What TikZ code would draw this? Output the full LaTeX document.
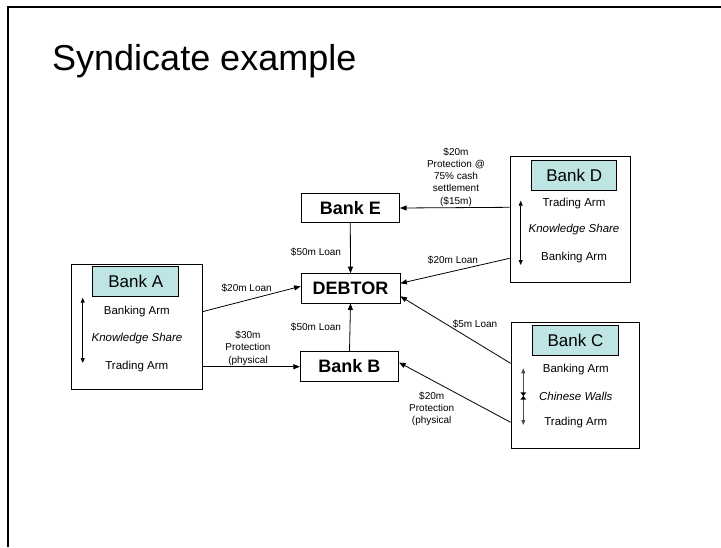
\documentclass[tikz,border=0pt]{standalone}
\usepackage{fontspec}
\setmainfont{Liberation Sans}
\usetikzlibrary{arrows.meta}
\definecolor{hdr}{RGB}{190,228,228}
\tikzset{
  outerbox/.style={draw, line width=0.8pt, inner sep=0pt},
  hdrbox/.style={draw, line width=0.8pt, fill=hdr, inner sep=0pt, font=\fontsize{17}{20}\selectfont},
  bankbox/.style={draw, line width=0.8pt, inner sep=0pt, minimum width=99pt, minimum height=29.4pt, font=\fontsize{18}{21}\selectfont\bfseries},
  armtext/.style={inner sep=0pt, font=\fontsize{11.5}{14}\selectfont},
  lbl/.style={inner sep=0pt, align=center, font=\fontsize{10}{12.2}\selectfont},
  conn/.style={line width=0.8pt, -{Triangle[length=6.5pt,width=5pt]}},
  dbl/.style={line width=0.8pt, {Triangle[length=5pt,width=4pt]}-{Triangle[length=5pt,width=4pt]}},
}
\begin{document}
\begin{tikzpicture}[x=1pt,y=-1pt]
\useasboundingbox (0,0) rectangle (721,547);
\draw[line width=2pt] (8,547) -- (8,7) -- (721,7);
\node[anchor=base west, inner sep=0pt, font=\fontsize{36}{40}\selectfont] (title) at (52,70) {Syndicate example};

% Bank A
\node[outerbox, minimum width=131pt, minimum height=125pt] (bankA) at (136.5,326.5) {};
\node[hdrbox, minimum width=86pt, minimum height=30.7pt] (hdrA) at (135.8,281.3) {Bank A};
\node[armtext] (aBank) at (136.8,311.7) {Banking Arm};
\node[armtext] (aKnow) at (137,339) {\itshape Knowledge Share};
\node[armtext] (aTrade) at (136.8,366.7) {Trading Arm};
\coordinate (aTop) at (82.7,297.7);
\coordinate (aBot) at (82.7,363);
\draw[dbl] (aTop) -- (aBot);

% Bank D
\node[outerbox, minimum width=120pt, minimum height=126pt] (bankD) at (570,219) {};
\node[hdrbox, minimum width=85pt, minimum height=30pt] (hdrD) at (574.2,175) {Bank D};
\node[armtext] (dTrade) at (574,203.3) {Trading Arm};
\node[armtext] (dKnow) at (574,230) {\itshape Knowledge Share};
\node[armtext] (dBank) at (574,257.3) {Banking Arm};
\coordinate (dTop) at (520.7,200.7);
\coordinate (dBot) at (520.7,265);
\draw[dbl] (dTop) -- (dBot);

% Bank C
\node[outerbox, minimum width=128pt, minimum height=125.6pt] (bankC) at (575,385.5) {};
\node[hdrbox, minimum width=85.6pt, minimum height=30.7pt] (hdrC) at (575.5,340.3) {Bank C};
\node[armtext] (cBank) at (575.8,369.3) {Banking Arm};
\node[armtext] (cWall) at (575.8,396) {\itshape Chinese Walls};
\node[armtext] (cTrade) at (575.8,422.3) {Trading Arm};
\coordinate (cTop) at (523.3,368.3);
\coordinate (cBot) at (523.3,425);
\draw[dbl, draw=black!70, fill=black] (cTop) -- (cBot);
\fill (520.4,392.4) -- (526.2,392.4) -- (523.3,396) -- cycle;
\fill (520.4,399.6) -- (526.2,399.6) -- (523.3,396) -- cycle;

% central boxes
\node[bankbox, minimum width=98.7pt] (bankE) at (350.3,208) {Bank E};
\node[bankbox] (debtor) at (350.5,288.3) {DEBTOR};
\node[bankbox, minimum width=98.4pt, minimum height=29.6pt] (bankB) at (349.5,366.5) {Bank B};

% connectors
\draw[conn] (bankE.south) -- (debtor.north);
\draw[conn] (bankB.north) -- (debtor.south);
\draw[conn] (bankA.east |- aBank) -- ([yshift=2pt]debtor.west);
\draw[conn] (bankA.east |- aTrade) -- (bankB.west |- aTrade);
\draw[conn] ([yshift=-4pt]bankD.west |- dTrade) -- (bankE.east);
\draw[conn] ([yshift=-1pt]bankD.west |- dBank) -- ([yshift=5pt]debtor.east);
\draw[conn] ([yshift=6pt]bankC.west |- cBank) -- ([yshift=-8pt]debtor.east);
\draw[conn] (bankC.west |- cTrade) -- ([yshift=4pt]bankB.east);

% labels
\node[lbl] (l1) at (316,252) {\$50m Loan};
\node[lbl] (l2) at (316,326.7) {\$50m Loan};
\node[lbl] (l3) at (246.7,287.7) {\$20m Loan};
\node[lbl] (l4) at (248,348.3) {\$30m\\Protection\\(physical};
\node[lbl] (l5) at (456,177) {\$20m\\Protection @\\75\% cash\\settlement\\(\$15m)};
\node[lbl] (l6) at (453,260) {\$20m Loan};
\node[lbl] (l7) at (475,324) {\$5m Loan};
\node[lbl] (l8) at (431.7,409) {\$20m\\Protection\\(physical};
\end{tikzpicture}
\end{document}
